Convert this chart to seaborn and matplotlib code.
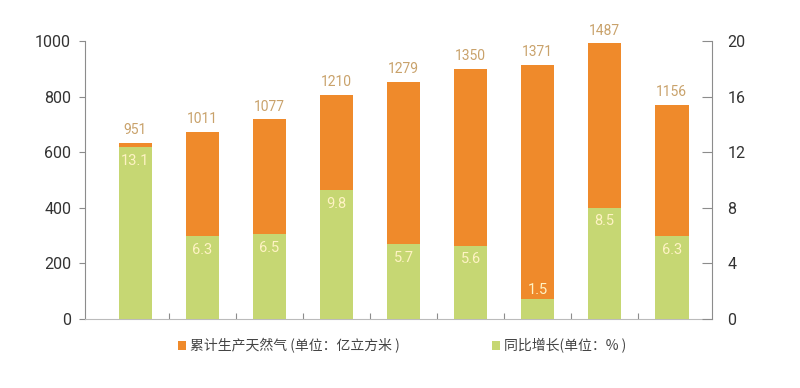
import matplotlib
matplotlib.use("Agg")
import matplotlib.pyplot as plt
import seaborn as sns
import pandas as pd
from matplotlib.patches import Patch

# ---- data ----
years = ["2010", "2011", "2012", "2013", "2014", "2015", "2016", "2017", "2018"]
output = [951, 1011, 1077, 1210, 1279, 1350, 1371, 1487, 1156]
growth = [13.1, 6.3, 6.5, 9.8, 5.7, 5.6, 1.5, 8.5, 6.3]
left_ticks = [0, 200, 400, 600, 800, 1000]
right_ticks = [0, 4, 8, 12, 16, 20]
legend_labels = ["累计生产天然气 (单位：亿立方米 )", "同比增长(单位：% )"]

ORANGE = "#EF8A2B"
GREEN = "#C6D773"
SPINE = "#8C8C8C"
TICKTXT = "#333333"

sns.set_theme(style="white")
plt.rcParams["font.family"] = ["Roboto", "Noto Sans CJK SC", "DejaVu Sans"]

df = pd.DataFrame({"year": years, "output": output, "growth": growth})

fig = plt.figure(figsize=(8, 3.88), dpi=100)
ax = fig.add_axes([85 / 800, 1 - 319 / 388, (712 - 85) / 800, (319 - 41) / 388])
ax_o = ax.twinx()
ax_g = ax.twinx()
axr = ax.twinx()

# bars (drawn on hidden axes, scaled as in the original picture)
sns.barplot(data=df, x="year", y="output", ax=ax_o, color=ORANGE,
            width=0.5, saturation=1, linewidth=0)
sns.barplot(data=df, x="year", y="growth", ax=ax_g, color=GREEN,
            width=0.5, saturation=1, linewidth=0)
ax_o.set_ylim(0, 1500)
ax_g.set_ylim(0, 21.2)
for a in (ax_o, ax_g):
    a.set_axis_off()

ax.set_xlim(-0.75, 8.6)

# value labels
for i, v in enumerate(output):
    ax_o.annotate(str(v), (i, v), xytext=(0, 4), textcoords="offset points",
                  ha="center", va="bottom", color="#C9A26B", fontsize=10)
for i, v in enumerate(growth):
    if v < 3:
        ax_g.annotate(f"{v}", (i, v), xytext=(0, 2), textcoords="offset points",
                      ha="center", va="bottom", color="#FFF3C4", fontsize=10.5)
    else:
        ax_g.annotate(f"{v}", (i, v), xytext=(0, -10), textcoords="offset points",
                      ha="center", va="center", color="#FFF3C4", fontsize=10.5)

# left axis
ax.set_ylim(0, 1000)
ax.set_yticks(left_ticks)
ax.set_yticklabels([str(t) for t in left_ticks])
ax.tick_params(axis="y", direction="out", length=4, color=SPINE, width=0.8,
               labelcolor=TICKTXT, labelsize=11.5, pad=6, left=True)
ax.set_xticks([])
ax.set_xticks([i + 0.5 for i in range(8)], minor=True)
ax.tick_params(axis="x", which="minor", direction="in", length=4, color=SPINE,
               width=0.8, bottom=True)
for s in ("top", "right"):
    ax.spines[s].set_visible(False)
ax.spines["left"].set_color(SPINE)
ax.spines["bottom"].set_color("#BBBBBB")
ax.spines["left"].set_linewidth(0.8)
ax.spines["bottom"].set_linewidth(0.8)
ax.set_xlabel("")
ax.set_ylabel("")

# right axis
axr.set_ylim(0, 20)
axr.set_yticks(right_ticks)
axr.set_yticklabels([str(t) for t in right_ticks])
axr.tick_params(axis="y", direction="in", length=7, color=SPINE, width=0.8,
                labelcolor=TICKTXT, labelsize=11.5, pad=11, right=True)
for s in ("top", "left", "bottom"):
    axr.spines[s].set_visible(False)
axr.spines["right"].set_color(SPINE)
axr.spines["right"].set_linewidth(0.8)
axr.set_ylabel("")

# legend
handles = [Patch(facecolor=ORANGE, edgecolor="none"),
           Patch(facecolor=GREEN, edgecolor="none")]
fig.legend(handles, legend_labels, loc="center left",
           bbox_to_anchor=(178 / 800, 1 - 346 / 388), ncol=2, frameon=False,
           borderpad=0, borderaxespad=0, handlelength=0.6, handleheight=0.6,
           handletextpad=0.3, columnspacing=6.6,
           prop={"family": ["Noto Sans CJK SC", "DejaVu Sans"], "size": 10},
           labelcolor="#444444")

fig.savefig("out.png", dpi=100)
